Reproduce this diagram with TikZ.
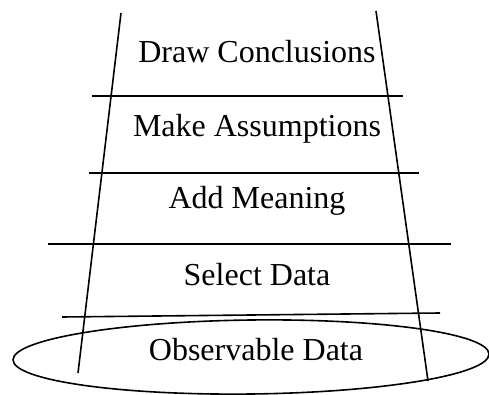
\documentclass[tikz,border=0pt]{standalone}
\usepackage{fontspec}
\setmainfont{Liberation Serif}
\begin{document}
\begin{tikzpicture}[x=1pt,y=-1pt,
  rail/.style={line width=1.6pt,black},
  rung/.style={line width=1.6pt,black},
  lbl/.style={anchor=base,inner sep=0pt,font=\fontsize{32}{36}\selectfont}]
\useasboundingbox (0,0) rectangle (489,395);
% rails
\coordinate (lt) at (121,13);
\coordinate (lb) at (78,373);
\coordinate (rt) at (376,11);
\coordinate (rb) at (428,381);
\draw[rail] (lt) -- (lb);
\draw[rail] (rt) -- (rb);
% rungs
\coordinate (r1a) at (92,96);  \coordinate (r1b) at (403,96);
\coordinate (r2a) at (89,173); \coordinate (r2b) at (419,173);
\coordinate (r3a) at (48,244); \coordinate (r3b) at (451,244);
\coordinate (r4a) at (62,317); \coordinate (r4b) at (440,313);
\draw[rung] (r1a) -- (r1b);
\draw[rung] (r2a) -- (r2b);
\draw[rung] (r3a) -- (r3b);
\draw[rung] (r4a) -- (r4b);
% base ellipse
\draw[rail, rotate around={0.7:(251,357)}] (251,357) ellipse [x radius=238, y radius=37];
% labels
\node[lbl] (t1) at (257,63) {Draw Conclusions};
\node[lbl] (t2) at (257,137) {Make Assumptions};
\node[lbl] (t3) at (257,208) {Add Meaning};
\node[lbl] (t4) at (257,285) {Select Data};
\node[lbl] (t5) at (256,360) {Observable Data};
\end{tikzpicture}
\end{document}
